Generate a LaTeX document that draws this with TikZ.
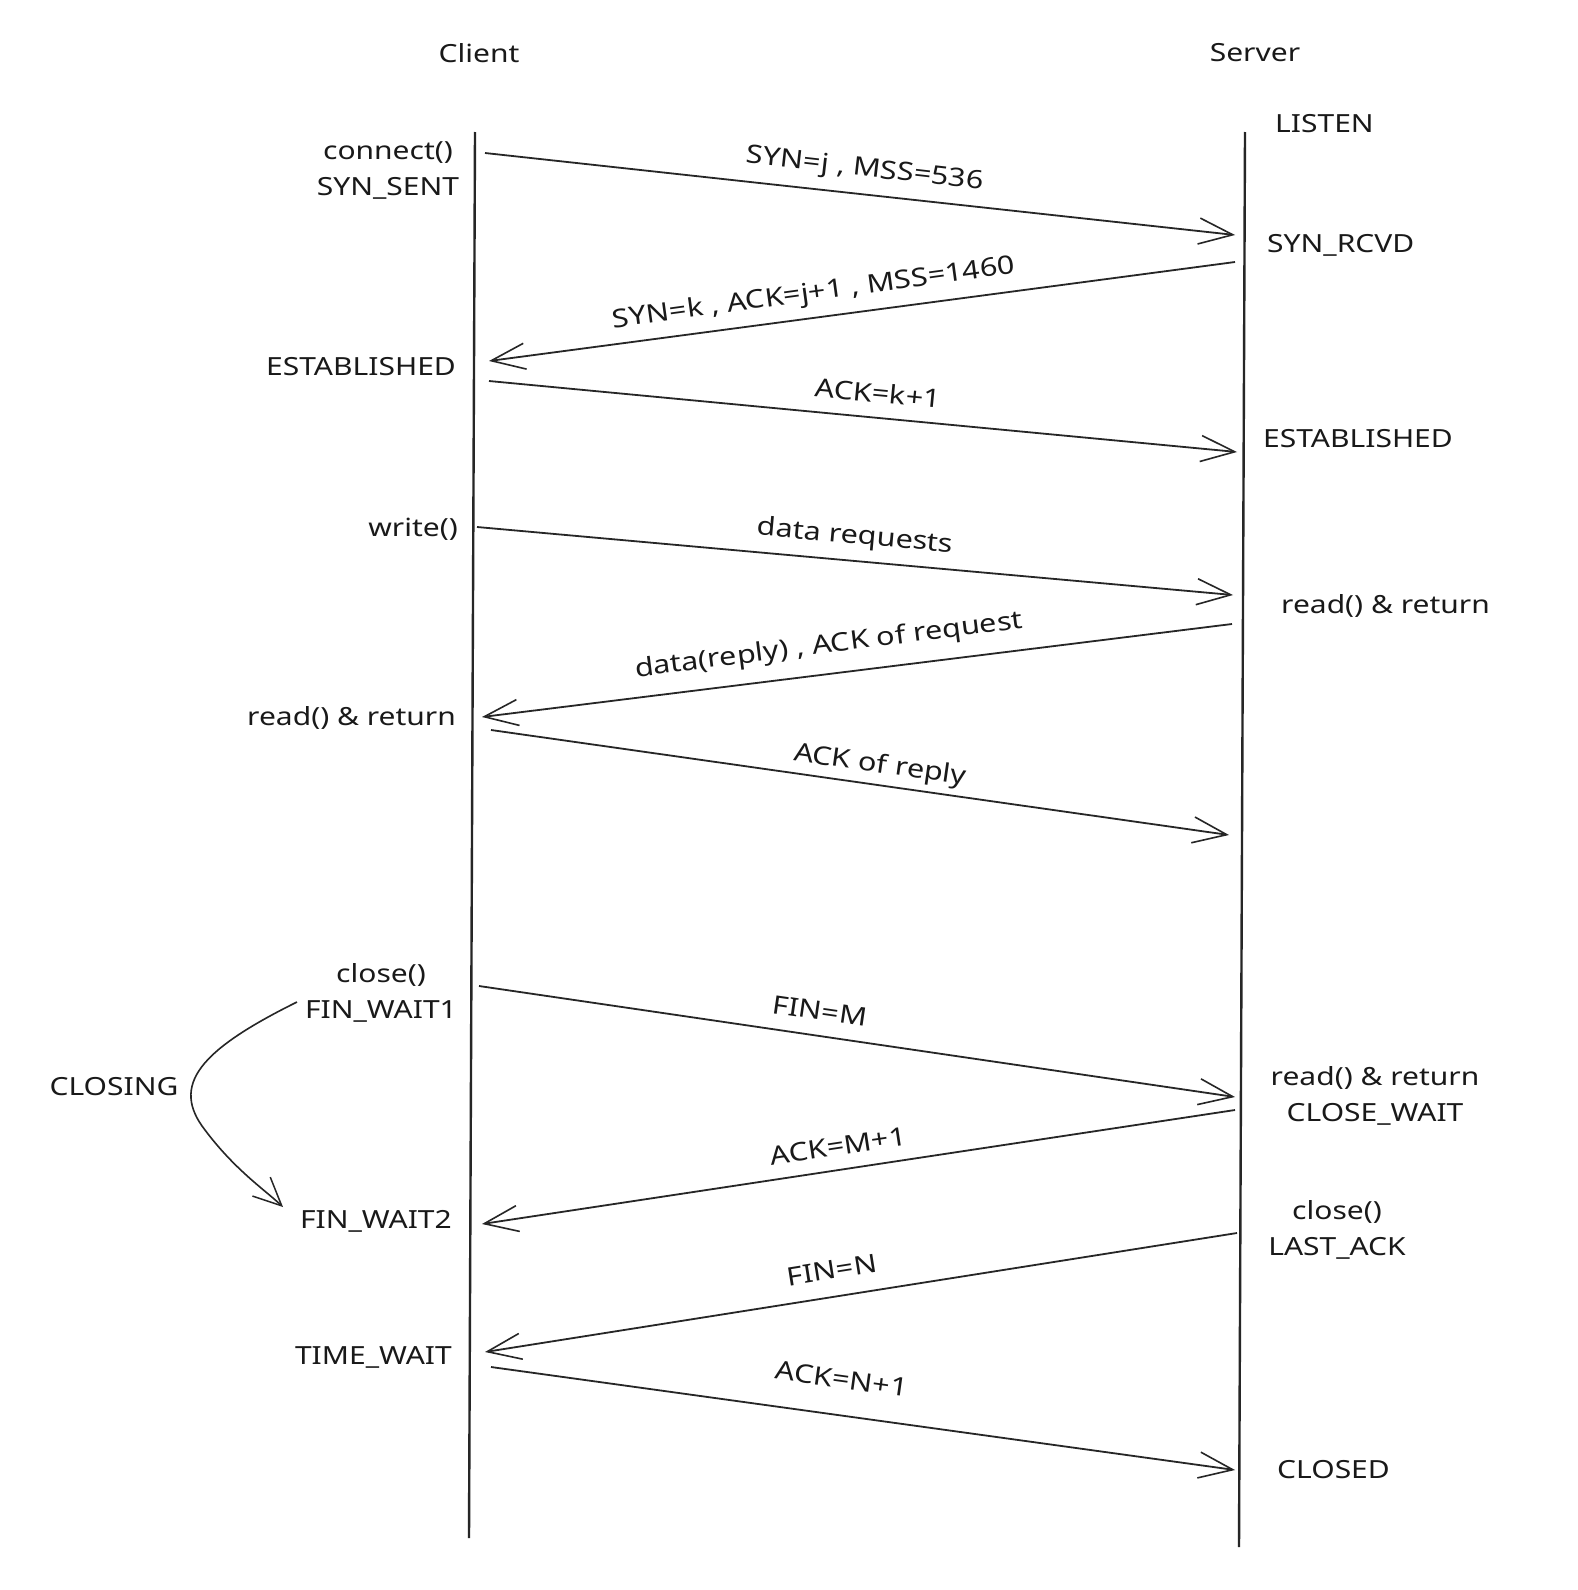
\documentclass[tikz,border=0pt]{standalone}
\usepackage{fontspec}
\setmainfont[FakeStretch=1.2]{Noto Sans}
\usetikzlibrary{arrows.meta}
\begin{document}
\begin{tikzpicture}[x=1pt,y=-1pt,
  lifeline/.style={line width=2.4pt, draw=black!85},
  msg/.style={line width=1.8pt, draw=black!85, -{Straight Barb[length=34pt,width=26pt,line width=1.6pt]}},
  state/.style={font=\fontsize{25}{36}\selectfont, text=black!90, inner sep=0pt},
  lbl/.style={font=\fontsize{25.5}{30}\selectfont, text=black!90, inner sep=0pt},
  head/.style={font=\fontsize{25}{30}\selectfont, text=black!90, inner sep=0pt}]
\useasboundingbox (0,0) rectangle (1578,1590);
\fill[white] (0,0) rectangle (1578,1590);

% lifelines
\coordinate (ctop) at (475,132);
\coordinate (cbot) at (469,1538);
\coordinate (stop) at (1245,132);
\coordinate (sbot) at (1239,1547);
\draw[lifeline] (ctop) -- (cbot);
\draw[lifeline] (stop) -- (sbot);

% headers
\node[head] (client) at (479,53) {Client};
\node[head] (server) at (1255,53) {Server};

% states client
\node[state, align=center] (connect) at (388,170) {connect()\\SYN\_SENT};
\node[state, anchor=east] (estc) at (456,367) {ESTABLISHED};
\node[state, anchor=east] (write) at (458,529) {write()};
\node[state, anchor=east] (readc) at (456,718) {read() \& return};
\node[state, align=center] (closec) at (381,993) {close()\\FIN\_WAIT1};
\node[state, anchor=east] (fw2) at (452,1221) {FIN\_WAIT2};
\node[state, anchor=east] (tw) at (452,1357) {TIME\_WAIT};
\node[state] (closing) at (114,1087) {CLOSING};

% states server
\node[state, anchor=west] (listen) at (1275,124) {LISTEN};
\node[state, anchor=west] (synrcvd) at (1267,245) {SYN\_RCVD};
\node[state, anchor=west] (ests) at (1263,439) {ESTABLISHED};
\node[state, anchor=west] (reads) at (1281,606) {read() \& return};
\node[state, align=center] (readcw) at (1375,1096) {read() \& return\\CLOSE\_WAIT};
\node[state, align=center] (closes) at (1337,1230) {close()\\LAST\_ACK};
\node[state, anchor=west] (closed) at (1277,1470) {CLOSED};

% message endpoints
\coordinate (a1) at (485,153);  \coordinate (b1) at (1235,235);
\coordinate (a2) at (1235,262); \coordinate (b2) at (489,361);
\coordinate (a3) at (489,381);  \coordinate (b3) at (1237,452);
\coordinate (a4) at (477,527);  \coordinate (b4) at (1233,595);
\coordinate (a5) at (1232,624); \coordinate (b5) at (482,717);
\coordinate (a6) at (491,730);  \coordinate (b6) at (1229,835);
\coordinate (a7) at (479,986);  \coordinate (b7) at (1235,1097);
\coordinate (a8) at (1235,1110);\coordinate (b8) at (482,1224);
\coordinate (a9) at (1237,1233);\coordinate (b9) at (485,1352);
\coordinate (a10) at (491,1367);\coordinate (b10) at (1235,1470);

\draw[msg] (a1) -- (b1);
\draw[msg] (a2) -- (b2);
\draw[msg] (a3) -- (b3);
\draw[msg] (a4) -- (b4);
\draw[msg] (a5) -- (b5);
\draw[msg] (a6) -- (b6);
\draw[msg] (a7) -- (b7);
\draw[msg] (a8) -- (b8);
\draw[msg] (a9) -- (b9);
\draw[msg] (a10) -- (b10);

% message labels
\node[lbl, rotate=-6.5] (l1) at (865,170) {SYN=j , MSS=536};
\node[lbl, rotate=7.8] (l2) at (814,294) {SYN=k , ACK=j+1 , MSS=1460};
\node[lbl, rotate=-5.4] (l3) at (878,393) {ACK=k+1};
\node[lbl, rotate=-5.1] (l4) at (855,537) {data requests};
\node[lbl, rotate=7.2] (l5) at (829,646) {data(reply) , ACK of request};
\node[lbl, rotate=-8.1] (l6) at (880,766) {ACK of reply};
\node[lbl, rotate=-8.3] (l7) at (820,1011) {FIN=M};
\node[lbl, rotate=8.6] (l8) at (838,1146) {ACK=M+1};
\node[lbl, rotate=9] (l9) at (832,1270) {FIN=N};
\node[lbl, rotate=-7.9] (l10) at (842,1379) {ACK=N+1};

% closing curve
\coordinate (cs) at (297,1002);
\coordinate (ce) at (283,1207);
\draw[msg, line width=1.6pt, -{Straight Barb[length=28pt,width=26pt,line width=1.5pt]}]
  (cs) .. controls (200,1050) and (170,1085) .. (205,1130) .. controls (235,1170) and (265,1190) .. (ce);
\end{tikzpicture}
\end{document}
